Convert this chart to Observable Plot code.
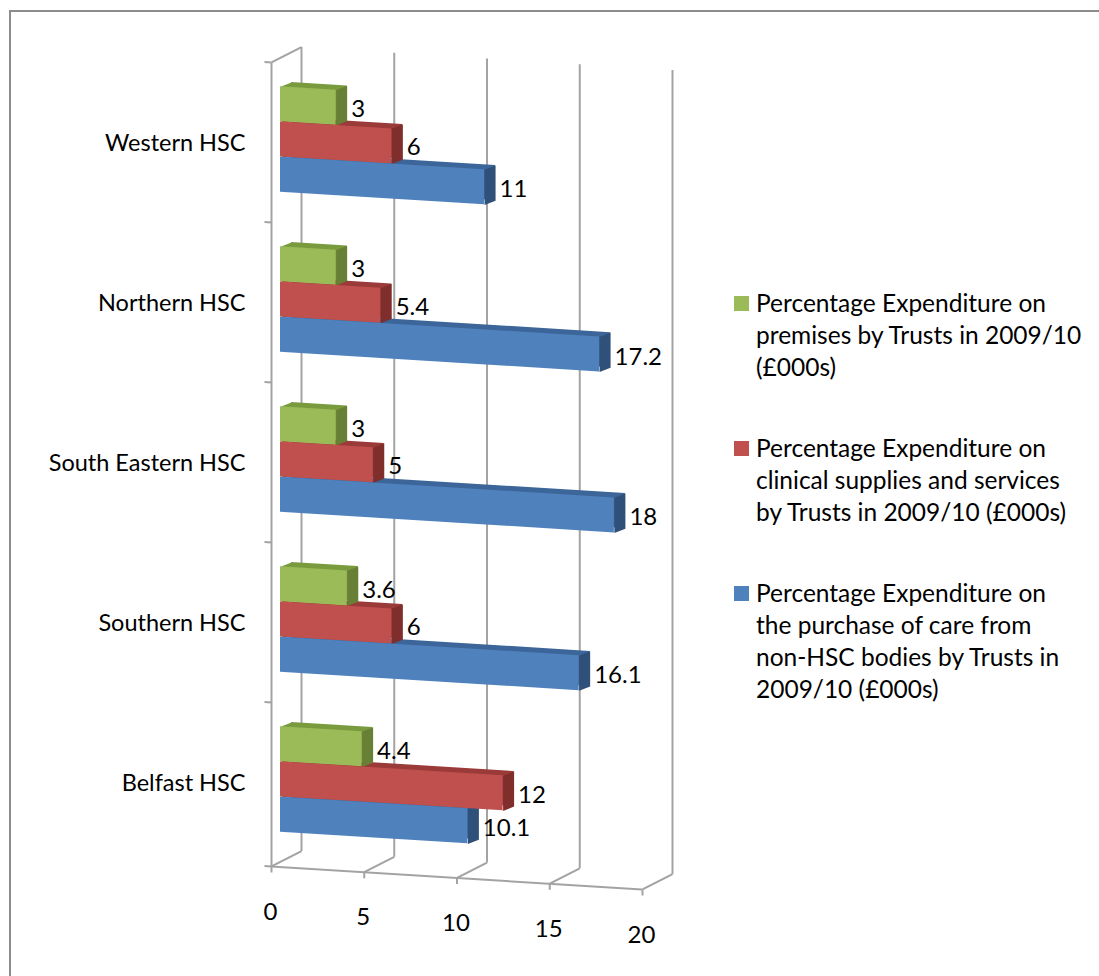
<!DOCTYPE html>
<html>
<head>
<meta charset="utf-8">
<script src="https://cdn.jsdelivr.net/npm/d3@7"></script>
<script src="https://cdn.jsdelivr.net/npm/@observablehq/plot@0.6"></script>
<style>
  html, body { margin: 0; padding: 0; background: #fff; }
  body { width: 1099px; height: 976px; position: relative; overflow: hidden; font-family: Lato, "Open Sans", sans-serif; color: #000; }
  #frame { position: absolute; left: 9px; top: 10px; width: 1200px; height: 1100px; border: 2px solid #8c8c8c; box-sizing: border-box; pointer-events: none; }
  #chart { position: absolute; left: 0; top: 0; }
  #legend { position: absolute; left: 734px; top: 287px; width: 365px; font-size: 24.5px; line-height: 32px; }
  #legend .item { position: relative; padding-left: 22px; margin-bottom: 49px; white-space: pre-line; }
  #legend .sw { position: absolute; left: 0; top: 9px; width: 15px; height: 15px; }
</style>
</head>
<body>
<div id="frame"></div>
<div id="chart"></div>
<div id="legend"></div>
<script>
// ---- data ----
const categories = ["Western HSC", "Northern HSC", "South Eastern HSC", "Southern HSC", "Belfast HSC"];
const seriesNames = [
  "Percentage Expenditure on\npremises by Trusts in 2009/10\n(£000s)",
  "Percentage Expenditure on\nclinical supplies and services\nby Trusts in 2009/10 (£000s)",
  "Percentage Expenditure on\nthe purchase of care from\nnon-HSC bodies by Trusts in\n2009/10 (£000s)"
];
const premises = [3, 3, 3, 3.6, 4.4];
const clinical = [6, 5.4, 5, 6, 12];
const purchase = [11, 17.2, 18, 16.1, 10.1];
const xTicks = [0, 5, 10, 15, 20];

// ---- styles ----
const frontColors = ["#9bbb59", "#c0504d", "#4f81bd"];
const topColors   = ["#7a9a3e", "#9a3b39", "#3c6599"];
const sideColors  = ["#687f36", "#7f2e2c", "#2f5078"];
const gridColor = "#a3a3a3";
const K = 0.062;          // perspective slant
const X0 = 280;           // pixel of x = 0
const BW = 35.2;          // bar thickness (px) = band width
const DEP = [11, -5];     // bar depth offset
const SHIFT = -3.5;
const FS = 24;

const seriesValues = [premises, clinical, purchase];
const rows = seriesValues.map((vals, s) => categories.map((c, i) => ({category: c, value: vals[i], series: s})));
const lastCat = categories[categories.length - 1];
const firstCat = categories[0];

// custom symbols (pixel-space shapes)
const poly = (pts) => ({draw(ctx) { ctx.moveTo(pts[0][0], pts[0][1]); for (let i = 1; i < pts.length; i++) ctx.lineTo(pts[i][0], pts[i][1]); ctx.closePath(); }});
const line = (segs) => ({draw(ctx) { for (const [a, b] of segs) { ctx.moveTo(a[0], a[1]); ctx.lineTo(b[0], b[1]); } }});
const h = BW / 2;
const sideFace = poly([[0, -h], [DEP[0], -h + DEP[1]], [DEP[0], h + DEP[1]], [0, h]]);
const leftTop = poly([[0, -h], [DEP[0], -h + DEP[1]], [DEP[0], -h]]);
const floorDiag = line([[[0, 0], [30, -17.3]], [[0, 0], [0, 6]]]);
const topDiag = line([[[0, 0], [30, -17.3]]]);
const leftTick = line([[[-7, 0], [0, 0]]]);

const offs = [0, 1, 2].map(s => (s - 1) * BW + SHIFT);

const marks = [];
// back wall gridlines
marks.push(Plot.ruleX(xTicks, {x: d => d, dx: 21, dy: -15, insetTop: -2.3, insetBottom: -1.7, stroke: gridColor, strokeWidth: 2, ariaDescription: "skew"}));
// left axis line
marks.push(Plot.ruleX([0], {x: d => d, dx: -9, insetBottom: -4, stroke: gridColor, strokeWidth: 2, ariaDescription: "skew"}));
// floor front edge
marks.push(Plot.ruleY([lastCat], {y: d => d, x1: 0, x2: 20, dx: -9, dy: 84, stroke: gridColor, strokeWidth: 2, ariaDescription: "skew"}));
// floor diagonals + ticks
marks.push(Plot.dot(xTicks, {x: d => d, y: () => lastCat, dx: -9, dy: 84, symbol: floorDiag, stroke: gridColor, strokeWidth: 2, fill: "none", ariaDescription: "skew"}));
// top-left diagonal
marks.push(Plot.dot([0], {x: d => d, y: () => firstCat, dx: -9, dy: -80, symbol: topDiag, stroke: gridColor, strokeWidth: 2, fill: "none", ariaDescription: "skew"}));
// left axis ticks at band boundaries
marks.push(Plot.dot(categories, {x: () => 0, y: d => d, dx: -9, dy: -80, symbol: leftTick, stroke: gridColor, strokeWidth: 2, fill: "none", ariaDescription: "skew"}));
marks.push(Plot.dot([lastCat], {x: () => 0, y: d => d, dx: -9, dy: 84, symbol: leftTick, stroke: gridColor, strokeWidth: 2, fill: "none", ariaDescription: "skew"}));

// layer 1: top faces
for (let s = 0; s < 3; s++) {
  marks.push(Plot.barX(rows[s], {x1: () => 0, x2: "value", y: "category", dx: DEP[0], dy: offs[s] + DEP[1], fill: topColors[s], ariaDescription: "skew"}));
  marks.push(Plot.dot(rows[s], {x: () => 0, y: "category", dy: offs[s], symbol: leftTop, fill: topColors[s], stroke: "none", ariaDescription: "skew"}));
}
// layer 2: side faces
for (let s = 0; s < 3; s++) {
  marks.push(Plot.dot(rows[s], {x: "value", y: "category", dy: offs[s], symbol: sideFace, fill: sideColors[s], stroke: "none", ariaDescription: "skew"}));
}
// layer 3: front faces
for (let s = 0; s < 3; s++) {
  marks.push(Plot.barX(rows[s], {x1: () => 0, x2: "value", y: "category", dy: offs[s], fill: frontColors[s], ariaDescription: "skew"}));
}
// value labels
for (let s = 0; s < 3; s++) {
  marks.push(Plot.text(rows[s], {x: "value", y: "category", text: d => String(d.value), dx: 15, dy: offs[s], textAnchor: "start", lineAnchor: "middle", fontSize: FS, fill: "#000", ariaDescription: "slide"}));
}
// x tick labels
marks.push(Plot.text(xTicks, {x: d => d, y: () => lastCat, text: d => String(d), dx: -10, dy: 129.6, textAnchor: "middle", lineAnchor: "middle", fontSize: FS, fill: "#000", ariaDescription: "slide"}));
// category labels
marks.push(Plot.text(categories, {x: () => 0, y: d => d, text: d => d, dx: -35, textAnchor: "end", lineAnchor: "middle", fontSize: 23.5, fill: "#000"}));

const svg = Plot.plot({
  width: 1099,
  height: 976,
  marginLeft: 280,
  marginRight: 448,
  marginTop: 63,
  marginBottom: 113,
  x: {domain: [0, 20], axis: null},
  y: {domain: categories, paddingInner: 0.78, paddingOuter: 0.39, axis: null},
  style: {fontFamily: "Lato, 'Open Sans', sans-serif", fontSize: "23px", background: "transparent", overflow: "visible"},
  marks
});
document.getElementById("chart").appendChild(svg);

// perspective slant
svg.querySelectorAll('[aria-description="skew"]').forEach(g => {
  const prev = g.getAttribute("transform") || "";
  g.setAttribute("transform", `matrix(1,${K},0,1,0,${-K * X0}) ${prev}`);
});
const sr = svg.getBoundingClientRect();
svg.querySelectorAll('[aria-description="slide"] text').forEach(t => {
  const r = t.getBoundingClientRect();
  const cx = (r.left + r.right) / 2 - sr.left;
  const prev = t.getAttribute("transform") || "";
  t.setAttribute("transform", `translate(0,${(K * (cx - X0)).toFixed(2)}) ${prev}`);
});

// legend
const legend = document.getElementById("legend");
seriesNames.forEach((name, s) => {
  const item = document.createElement("div");
  item.className = "item";
  const sw = document.createElement("span");
  sw.className = "sw";
  sw.style.background = frontColors[s];
  item.appendChild(sw);
  item.appendChild(document.createTextNode(name));
  legend.appendChild(item);
});
</script>
</body>
</html>
